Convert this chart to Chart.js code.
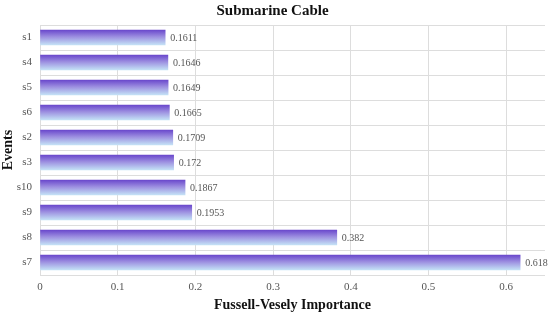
<!DOCTYPE html>
<html>
<head>
<meta charset="utf-8">
<script src="https://cdn.jsdelivr.net/npm/chart.js@4"></script>
<style>
  html, body { margin: 0; padding: 0; background: #fff; }
  #wrap { width: 550px; height: 314px; }
</style>
</head>
<body>
<div id="wrap"><canvas id="cv"></canvas></div>
<script>
/* ---------- Dados ---------- */
const EVENTS = ['s1', 's4', 's5', 's6', 's2', 's3', 's10', 's9', 's8', 's7'];
const IMPORTANCE = [0.1611, 0.1646, 0.1649, 0.1665, 0.1709, 0.172, 0.1867, 0.1953, 0.382, 0.618];
const VALUE_LABELS = ['0.1611', '0.1646', '0.1649', '0.1665', '0.1709', '0.172', '0.1867', '0.1953', '0.382', '0.618'];

const SERIF = '"Liberation Serif", "Times New Roman", serif';
const BAR_H = 15;

/* gradiente vertical por barra: roxo em cima, azul claro embaixo */
function barGradient(ctx) {
  const chart = ctx.chart;
  const y = chart.scales.y;
  if (!y || ctx.dataIndex === undefined) return '#9b8fe0';
  const cy = y.getPixelForValue(ctx.dataIndex);
  if (!isFinite(cy)) return '#9b8fe0';
  const g = chart.ctx.createLinearGradient(0, cy - BAR_H / 2, 0, cy + BAR_H / 2);
  g.addColorStop(0, '#6a48cc');
  g.addColorStop(0.45, '#9c8ee0');
  g.addColorStop(1, '#c4e2f6');
  return g;
}

/* rótulos de valor ao lado das barras */
const valueLabels = {
  id: 'valueLabels',
  afterDatasetsDraw(chart) {
    const c = chart.ctx;
    const meta = chart.getDatasetMeta(0);
    c.save();
    c.font = '10px ' + SERIF;
    c.fillStyle = '#555';
    c.textBaseline = 'middle';
    meta.data.forEach((bar, i) => {
      c.fillText(VALUE_LABELS[i], bar.x + 5, bar.y + 1);
    });
    c.restore();
  }
};

new Chart(document.getElementById('cv'), {
  type: 'bar',
  data: {
    labels: EVENTS,
    datasets: [{
      data: IMPORTANCE,
      backgroundColor: barGradient,
      borderWidth: 0,
      barThickness: BAR_H,
    }],
  },
  options: {
    indexAxis: 'y',
    responsive: true,
    maintainAspectRatio: false,
    animation: false,
    layout: { padding: { left: 0, right: 5, top: 0, bottom: 0 } },
    plugins: {
      legend: { display: false },
      tooltip: { enabled: false },
      title: {
        display: true,
        text: 'Submarine Cable',
        color: '#111',
        font: { family: SERIF, size: 15, weight: 'bold', lineHeight: 1.2 },
        padding: { top: 2, bottom: 5 },
      },
    },
    scales: {
      x: {
        min: 0, max: 0.65,
        afterBuildTicks: s => { s.ticks = s.ticks.filter(t => t.value <= 0.6 + 1e-9); },
        afterFit: s => { s.height = 39; },
        ticks: { stepSize: 0.1, color: '#555', padding: 6, font: { family: SERIF, size: 11 } },
        grid: { color: '#dddddd', drawTicks: false },
        border: { display: false },
        title: {
          display: true, text: 'Fussell-Vesely Importance', color: '#111',
          font: { family: SERIF, size: 14, weight: 'bold' }, padding: { top: 2, bottom: 0 },
        },
      },
      y: {
        afterFit: s => { s.width = 40; },
        ticks: { color: '#555', padding: 8, font: { family: SERIF, size: 11 } },
        grid: { color: '#dddddd', drawTicks: false, offset: true },
        border: { color: '#dddddd' },
        title: {
          display: true, text: 'Events', color: '#111',
          font: { family: SERIF, size: 14, weight: 'bold' }, padding: 0,
        },
      },
    },
  },
  plugins: [valueLabels],
});
</script>
</body>
</html>
